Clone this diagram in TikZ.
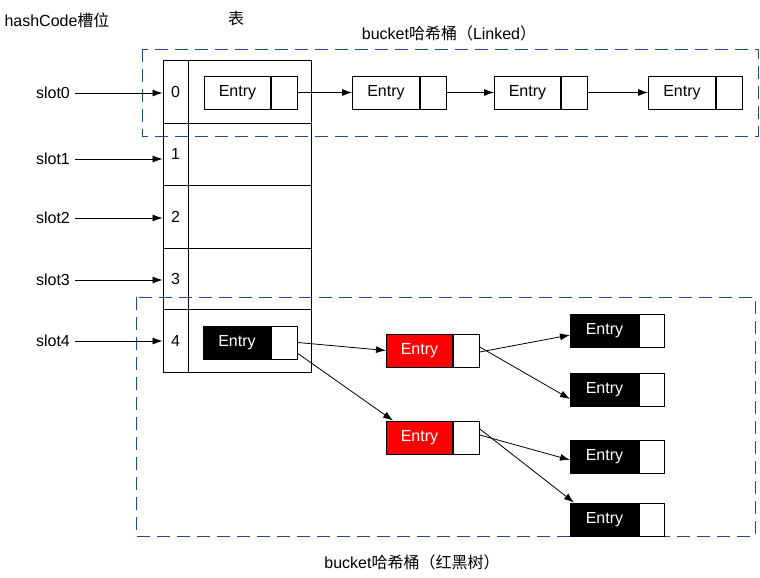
\documentclass[tikz,border=0pt]{standalone}
\usepackage{fontspec}
\setmainfont{Liberation Sans}
\newfontfamily\cjk{Noto Sans CJK SC}
\usetikzlibrary{arrows.meta,calc}
\definecolor{dashblue}{HTML}{1F4A9A}
\definecolor{entryred}{HTML}{FF0000}
\begin{document}
\begin{tikzpicture}[x=1pt,y=-1pt,
  font=\fontsize{16}{19}\selectfont,
  idxcell/.style={draw,line width=0.9pt,inner sep=0pt,minimum width=25pt,minimum height=#1},
  datacell/.style={draw,line width=0.9pt,inner sep=0pt,minimum width=123pt,minimum height=#1},
  elbl/.style={draw,line width=0.9pt,inner sep=0pt,minimum width=#1,minimum height=33pt,anchor=west},
  eptr/.style={draw,line width=0.9pt,inner sep=0pt,minimum width=#1,minimum height=33pt,anchor=west,fill=white},
  blackentry/.style={elbl=#1,fill=black,text=white},
  redentry/.style={elbl=#1,fill=entryred,text=white},
  bluedash/.style={draw=dashblue,line width=0.9pt,dash pattern=on 13pt off 7pt},
  arr/.style={-{Latex[length=10pt,width=7pt]},line width=0.8pt},
  lbl/.style={inner sep=5pt}
]
\useasboundingbox (0,0) rectangle (760,578);

% dashed bucket frames
\draw[bluedash] (142,49) rectangle (758,136);
\draw[bluedash] (136,297) rectangle (755,536);

% titles
\node[lbl] (hc) at (57,20) {hashCode{\cjk 槽位}};
\node[lbl] (tb) at (236,18) {{\cjk 表}};
\node[lbl] (bl) at (449,33) {bucket{\cjk 哈希桶（}Linked{\cjk ）}};
\node[lbl] (br) at (412,562) {bucket{\cjk 哈希桶（红黑树）}};

% table
\node[idxcell=63pt] (c0) at (175.5,91.5) {0};
\node[idxcell=62pt] (c1) at (175.5,154) {1};
\node[idxcell=63pt] (c2) at (175.5,216.5) {2};
\node[idxcell=61pt] (c3) at (175.5,278.5) {3};
\node[idxcell=63pt] (c4) at (175.5,340.5) {4};
\node[datacell=63pt] (d0) at (249.5,91.5) {};
\node[datacell=62pt] (d1) at (249.5,154) {};
\node[datacell=63pt] (d2) at (249.5,216.5) {};
\node[datacell=61pt] (d3) at (249.5,278.5) {};
\node[datacell=63pt] (d4) at (249.5,340.5) {};

% slot labels
\node[lbl] (s0) at (53,93) {slot0};
\node[lbl] (s1) at (53,159) {slot1};
\node[lbl] (s2) at (53,218) {slot2};
\node[lbl] (s3) at (53,280) {slot3};
\node[lbl] (s4) at (53,341) {slot4};
\foreach \i in {0,...,4}{
  \draw[arr] (s\i.east) -- (s\i.east -| c\i.west);
}

% linked bucket entries
\node[elbl=66pt] (e0) at (204,92.5) {Entry};
\node[eptr=26pt] (e0p) at (e0.east) {};
\node[elbl=67pt] (e1) at (352,92.5) {Entry};
\node[eptr=26pt] (e1p) at (e1.east) {};
\node[elbl=66pt] (e2) at (494,92.5) {Entry};
\node[eptr=26pt] (e2p) at (e2.east) {};
\node[elbl=67pt] (e3) at (648,92.5) {Entry};
\node[eptr=26pt] (e3p) at (e3.east) {};
\draw[arr] (e0p.east) -- (e1.west);
\draw[arr] (e1p.east) -- (e2.west);
\draw[arr] (e2p.east) -- (e3.west);

% red-black tree bucket
\node[blackentry=67pt] (t0) at (203,342.5) {Entry};
\node[eptr=26pt] (t0p) at (t0.east) {};
\node[redentry=66pt] (r1) at (386,350.5) {Entry};
\node[eptr=26pt] (r1p) at (r1.east) {};
\node[redentry=66pt] (r2) at (386,437.5) {Entry};
\node[eptr=26pt] (r2p) at (r2.east) {};
\node[blackentry=68pt] (b1) at (570,330.5) {Entry};
\node[eptr=25pt] (b1p) at (b1.east) {};
\node[blackentry=68pt] (b2) at (570,389.5) {Entry};
\node[eptr=25pt] (b2p) at (b2.east) {};
\node[blackentry=68pt] (b3) at (570,456.5) {Entry};
\node[eptr=25pt] (b3p) at (b3.east) {};
\node[blackentry=68pt] (b4) at (570,519.5) {Entry};
\node[eptr=25pt] (b4p) at (b4.east) {};

\draw[arr] (t0p.east) -- (r1.west);
\draw[arr] ([yshift=6pt]t0p.south east) -- ([xshift=7pt]r2.north west);
\draw[arr] ([yshift=-1.5pt]r1p.east) -- ([yshift=-4.5pt]b1.west);
\draw[arr] ([yshift=3.5pt]r1p.east) -- ([yshift=-9.5pt]b2.west);
\draw[arr] ([yshift=2.5pt]r2p.east) -- ([yshift=-3.5pt]b3.west);
\draw[arr] ([yshift=8.5pt]r2p.east) -- ([xshift=4pt]b4.north west);
\end{tikzpicture}
\end{document}
